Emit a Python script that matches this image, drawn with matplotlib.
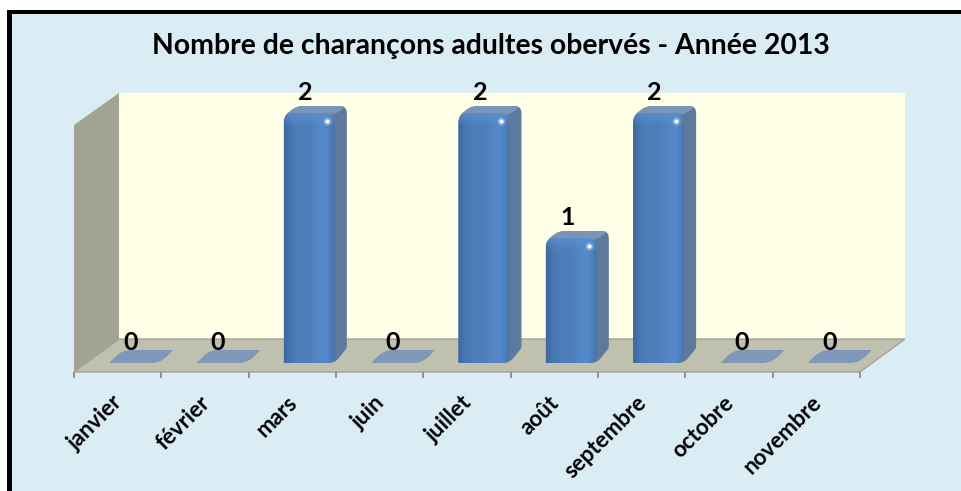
#!/usr/bin/env python3
import matplotlib
matplotlib.use("Agg")
import matplotlib.pyplot as plt
import numpy as np
from matplotlib.colors import LinearSegmentedColormap
from matplotlib.patches import PathPatch, Polygon, Rectangle
from matplotlib.path import Path

plt.rcParams["font.family"] = ["Lato", "DejaVu Sans"]

months = ["janvier", "février", "mars", "juin", "juillet", "août",
          "septembre", "octobre", "novembre"]
counts = [0, 0, 2, 0, 2, 1, 2, 0, 0]
title = "Nombre de charançons adultes obervés - Année 2013"

W, H = 961, 491
PX_CAT = 87.33        # pixels per category
PX_VAL = 125.0        # pixels per count
LEFT_PX = 74.0        # front edge of the floor
ZERO_PX = 363.0       # foot of the bars

fig = plt.figure(figsize=(W / 100, H / 100), dpi=100, facecolor="white")
ax = fig.add_axes([0, 0, 1, 1])
ax.set_xlim(-0.5 - LEFT_PX / PX_CAT, -0.5 + (W - LEFT_PX) / PX_CAT)
ax.set_ylim((ZERO_PX - H) / PX_VAL, ZERO_PX / PX_VAL)
ax.axis("off")


def dx(px):
    return px / PX_CAT


def dy(px):
    return px / PX_VAL


def fx(px):
    return -0.5 + (px - LEFT_PX) / PX_CAT


def fy(py):
    return (ZERO_PX - py) / PX_VAL


def rounded(points, radii):
    # closed path through points, one corner radius in pixels per point
    verts, codes = [], []
    n = len(points)
    for i, p in enumerate(points):
        p = np.array(p, dtype=float)
        a = np.array(points[i - 1], dtype=float)
        b = np.array(points[(i + 1) % n], dtype=float)
        sa = np.array([(a - p)[0] * PX_CAT, (a - p)[1] * PX_VAL])
        sb = np.array([(b - p)[0] * PX_CAT, (b - p)[1] * PX_VAL])
        ta = min(radii[i] / max(np.hypot(*sa), 1e-6), 0.5)
        tb = min(radii[i] / max(np.hypot(*sb), 1e-6), 0.5)
        start = p + (a - p) * ta
        end = p + (b - p) * tb
        verts.append(start)
        codes.append(Path.MOVETO if i == 0 else Path.LINETO)
        verts += [p, end]
        codes += [Path.CURVE3, Path.CURVE3]
    verts.append(verts[0])
    codes.append(Path.CLOSEPOLY)
    return Path(verts, codes)


# background
ax.add_patch(Rectangle((fx(7), fy(H)), dx(W - 7), dy(H - 10), fc="#daedf4", ec="none", zorder=0))

# walls and floor
ax.add_patch(Rectangle((fx(119), fy(339)), dx(786), dy(246), fc="#ffffe8", ec="none", zorder=1))
ax.add_patch(Polygon([(fx(74), fy(372)), (fx(119), fy(339)), (fx(905), fy(339)), (fx(860), fy(372))],
                     fc="#bfc0ae", ec="#a3a39a", lw=1.0, zorder=2))
ax.add_patch(Polygon([(fx(74), fy(125)), (fx(119), fy(93)), (fx(119), fy(339)), (fx(74), fy(372))],
                     fc="#a2a392", ec="none", zorder=2))

# axis ticks
for i in range(len(months) + 1):
    x = -0.5 + i
    ax.plot([x, x], [fy(372), fy(378)], color="#8c8c8c", lw=1.3, zorder=2, solid_capstyle="butt")

bar_cmap = LinearSegmentedColormap.from_list(
    "bar", ["#3c689f", "#4a7ab5", "#4f7fba", "#4e7eba", "#5487c8", "#5689cb", "#4674ab"])
shine_cmap = LinearSegmentedColormap.from_list(
    "shine", [(0.36, 0.56, 0.8, 0.0), (0.36, 0.56, 0.8, 1.0)])

BAR_SHIFT = dx(17)
BAR_W = dx(51)

for i, (month, n) in enumerate(zip(months, counts)):
    cx = i + BAR_SHIFT
    x0, x1 = cx - BAR_W / 2, cx + BAR_W / 2
    if n == 0:
        ax.add_patch(PathPatch(rounded([(x0, 0), (x0 + dx(13), dy(13)), (x1 + dx(13), dy(13)), (x1, 0)],
                                       [1, 9, 1, 9]),
                               fc="#7f98ba", ec="none", zorder=3))
    else:
        # side and top of the column
        ax.add_patch(PathPatch(rounded([(x0, 0), (x0, n + dy(-3)), (x0 + dx(13), n + dy(7)),
                                        (x1 + dx(12), n + dy(7)), (x1 + dx(12), dy(15)), (x1, 0)],
                                       [1, 6, 6, 7, 2, 6]),
                               fc="#5e799c", ec="none", zorder=3))
        ax.add_patch(PathPatch(rounded([(x0 + dx(2), n - dy(2)), (x0 + dx(13), n + dy(7)),
                                        (x1 + dx(12), n + dy(7)), (x1 - dx(1), n - dy(2))],
                                       [5, 5, 7, 5]),
                               fc="#7b95b9", ec="none", zorder=3))
        # front face: gradient clipped to a rounded rectangle
        front = PathPatch(rounded([(x0, 0), (x0, n), (x1, n), (x1, 0)], [1, 10, 10, 8]),
                          transform=ax.transData, fc="none", ec="none")
        ax.add_patch(front)
        im = ax.imshow(np.linspace(0, 1, 64)[None, :], cmap=bar_cmap, aspect="auto",
                       extent=(x0, x1, 0, n), zorder=4, interpolation="bilinear")
        im.set_clip_path(front)
        top_band = ax.imshow(np.linspace(0.85, 0, 16)[:, None], cmap=shine_cmap, aspect="auto",
                             vmin=0, vmax=1, extent=(x0, x1, n - dy(14), n), zorder=5,
                             interpolation="bilinear")
        top_band.set_clip_path(front)
        # specular spot near the top right corner
        ax.plot([x1 - dx(8)], [n - dy(8)], "o", ms=6, mfc="#a9c9ef", mec="none", alpha=0.45, zorder=6)
        ax.plot([x1 - dx(8)], [n - dy(8)], "o", ms=3, mfc="white", mec="none", zorder=6)
    ax.annotate(str(n), (cx - dx(4), n), xytext=(0, 15), textcoords="offset points",
                ha="center", va="center", fontsize=18, fontweight="bold", color="black", zorder=7)
    ax.annotate(month, (i + 0.02, fy(378)), xytext=(-5.5, -10), textcoords="offset points",
                ha="right", va="top", rotation=45, rotation_mode="anchor",
                fontsize=16, fontweight="bold", color="black", zorder=7)

ax.set_xlim(-0.5 - LEFT_PX / PX_CAT, -0.5 + (W - LEFT_PX) / PX_CAT)
ax.set_ylim((ZERO_PX - H) / PX_VAL, ZERO_PX / PX_VAL)

ax.text(fx(491), fy(46), title, ha="center", va="center", fontsize=20.4, fontweight="bold", color="black", zorder=7)

# black frame: top and left only
ax.add_patch(Rectangle((fx(7), fy(14)), dx(W - 7), dy(4), fc="black", ec="none", zorder=8))
ax.add_patch(Rectangle((fx(7), fy(H)), dx(5), dy(H - 10), fc="black", ec="none", zorder=8))

fig.savefig("out.png", dpi=100, facecolor="white")
plt.close(fig)
